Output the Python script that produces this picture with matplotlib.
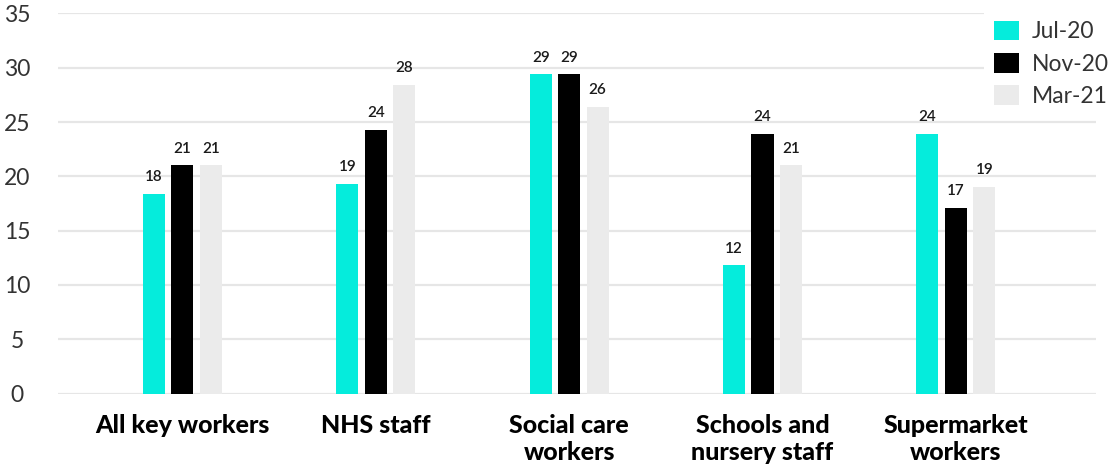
import matplotlib.pyplot as plt
import numpy as np

categories = ['All key workers', 'NHS staff', 'Social care\nworkers',
              'Schools and\nnursery staff', 'Supermarket\nworkers']
series = ['Jul-20', 'Nov-20', 'Mar-21']
jul_20 = [18.4, 19.3, 29.4, 11.8, 23.9]
nov_20 = [21.0, 24.3, 29.4, 23.9, 17.1]
mar_21 = [21.0, 28.4, 26.4, 21.0, 19.0]
colors = ['#05ECDC', '#000000', '#EBEBEB']
y_ticks = [0, 5, 10, 15, 20, 25, 30, 35]

plt.rcParams['font.family'] = ['Lato', 'DejaVu Sans']

fig = plt.figure(figsize=(11.08, 4.70), dpi=100)
ax = fig.add_axes([0.0523, 0.1626, 0.9367, 0.8089])

x = np.arange(len(categories))
width = 0.114
step = 0.147

for i, (name, vals) in enumerate(zip(series, [jul_20, nov_20, mar_21])):
    pos = x + (i - 1) * step
    bars = ax.bar(pos, vals, width, color=colors[i], label=name, zorder=3)
    for b, v in zip(bars, vals):
        ax.annotate(f'{v:.0f}', (b.get_x() + b.get_width() / 2, v),
                    xytext=(0, 7), textcoords='offset points',
                    ha='center', va='bottom', fontsize=11,
                    color='#1a1a1a', fontweight='semibold')

ax.set_ylim(0, 35)
ax.set_xlim(-0.644, 4.724)
ax.set_yticks(y_ticks)
ax.yaxis.grid(True, color='#E6E6E6', linewidth=1.6, zorder=0)
ax.set_axisbelow(True)

ax.set_xticks(x)
ax.set_xticklabels(categories, fontsize=18, fontweight='black', color='#000000',
                   linespacing=1.2)
ax.tick_params(axis='x', length=0, pad=15)
ax.tick_params(axis='y', length=0, pad=29.5, labelsize=16.5, labelcolor='#333333')
for lbl in ax.get_yticklabels():
    lbl.set_horizontalalignment('center')

for s in ax.spines.values():
    s.set_visible(False)

leg = ax.legend(loc='upper right', bbox_to_anchor=(1.032, 1.035),
                fontsize=16.5, frameon=True, facecolor='white', edgecolor='none',
                framealpha=1, fancybox=False, handlelength=1.1, handleheight=0.95,
                handletextpad=0.55, labelspacing=0.45, borderpad=0.4)
for t in leg.get_texts():
    t.set_color('#333333')

fig.savefig('out.png', dpi=100)
